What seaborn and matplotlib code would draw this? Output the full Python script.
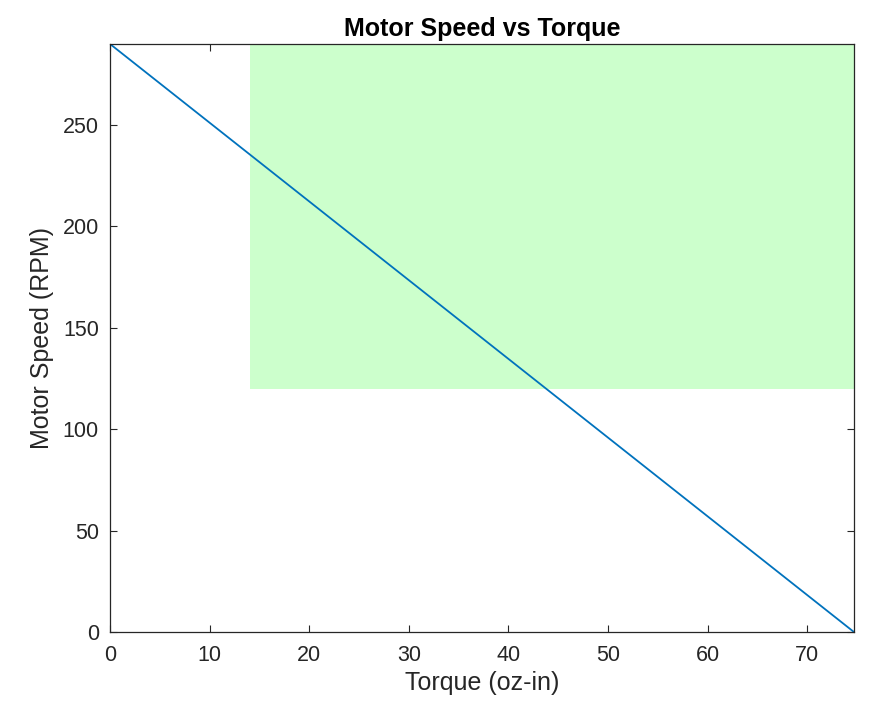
import matplotlib
matplotlib.use('Agg')
import matplotlib.pyplot as plt
import seaborn as sns
import pandas as pd

# motor curve endpoints (stall torque, no-load speed)
torque = [0, 74.7]
speed = [290, 0]

# operating region
region_torque = [14.1, 74.7]
region_speed_min = 120
region_speed_max = 290

sns.set_style('white')
plt.rcParams['font.family'] = ['Liberation Sans', 'DejaVu Sans']

fig = plt.figure(figsize=(8.69, 7.06), dpi=100)
ax = fig.add_axes([0.1266, 0.1048, 0.8561, 0.8329])

ax.fill_between(region_torque, region_speed_min, region_speed_max,
                color='#ccffcc', linewidth=0, zorder=1)

df = pd.DataFrame({'torque': torque, 'speed': speed})
sns.lineplot(data=df, x='torque', y='speed', color='#0072bd', linewidth=1.3, ax=ax, zorder=2)

ax.set_xlim(0, 74.7)
ax.set_ylim(0, 290)
ax.set_xticks(range(0, 71, 10))
ax.set_yticks(range(0, 251, 50))
ax.tick_params(direction='in', length=5, width=0.8, colors='#262626', labelsize=15.5,
               bottom=True, left=True, top=True, right=True,
               labeltop=False, labelright=False)
ax.tick_params(axis='x', pad=9)
ax.tick_params(axis='y', pad=8)
for s in ax.spines.values():
    s.set_color('#262626')
    s.set_linewidth(0.9)
    s.set_zorder(3)

ax.set_xlabel('Torque (oz-in)', fontsize=18, color='#262626', labelpad=4)
ax.set_ylabel('Motor Speed (RPM)', fontsize=18, color='#262626', labelpad=6)
ax.set_title('Motor Speed vs Torque', fontsize=18, fontweight='bold', color='black', pad=6)

fig.savefig('out.png', dpi=100)
